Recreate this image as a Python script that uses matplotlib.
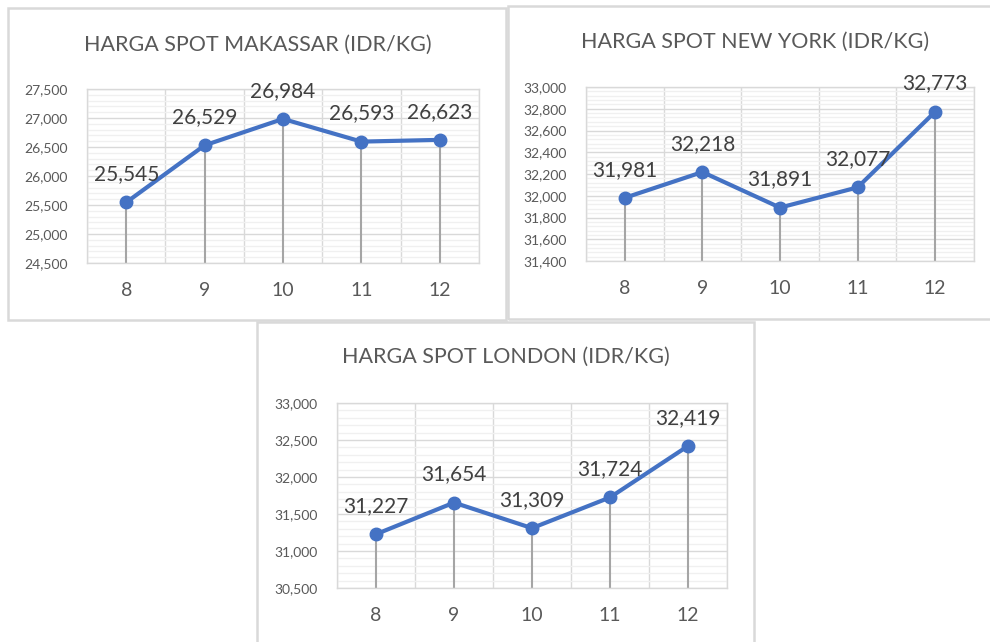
import numpy as np
import matplotlib as mpl
from matplotlib import pyplot as plt
from matplotlib.patches import Rectangle
from matplotlib.ticker import MultipleLocator, FuncFormatter

mpl.rcParams['font.family'] = ['Lato', 'DejaVu Sans']

# data
months = ['8', '9', '10', '11', '12']
makassar = [25545, 26529, 26984, 26593, 26623]
newyork = [31981, 32218, 31891, 32077, 32773]
london = [31227, 31654, 31309, 31724, 32419]

titles = ['HARGA SPOT MAKASSAR (IDR/KG)',
          'HARGA SPOT NEW YORK (IDR/KG)',
          'HARGA SPOT LONDON (IDR/KG)']

W, H = 990, 642
pColors = {'line': '#4472C4', 'drop': '#A5A5A5', 'major': '#D9D9D9',
           'minor': '#F0F0F0', 'text': '#595959', 'label': '#404040',
           'border': '#D9D9D9'}

f = plt.figure(figsize = (W / 100.0, H / 100.0), dpi = 100)
f.patch.set_facecolor('white')

def px_axes(left, top, right, bottom):
    return f.add_axes([left / W, 1.0 - bottom / H, (right - left) / W, (bottom - top) / H])

def px_border(left, top, right, bottom):
    f.patches.append(Rectangle((left / W, 1.0 - bottom / H),
                               (right - left) / W, (bottom - top) / H,
                               transform = f.transFigure, fill = False,
                               edgecolor = pColors['border'], lw = 1.8, zorder = 0))

def chart(ax, values, ymin, ymax, ystep, title, titlepos):
    x = np.arange(len(values))
    ax.set_xlim(-0.5, len(values) - 0.5)
    ax.set_ylim(ymin, ymax)
    ax.yaxis.set_major_locator(MultipleLocator(ystep))
    ax.yaxis.set_minor_locator(MultipleLocator(ystep / 5.0))
    ax.yaxis.set_major_formatter(FuncFormatter(lambda v, p: f'{int(round(v)):,}'))
    ax.set_xticks(x)
    ax.set_xticklabels(months)
    ax.set_xticks(np.arange(-0.5, len(values), 1.0), minor = True)

    ax.grid(which = 'minor', axis = 'y', color = pColors['minor'], lw = 1.0)
    ax.grid(which = 'major', axis = 'y', color = pColors['major'], lw = 1.0)
    ax.grid(which = 'minor', axis = 'x', color = pColors['major'], lw = 1.0)
    ax.set_axisbelow(True)
    for spine in ax.spines.values():
        spine.set_color(pColors['major'])
        spine.set_linewidth(1.0)

    ax.tick_params(which = 'both', length = 0)
    ax.tick_params(axis = 'y', labelsize = 10, labelcolor = pColors['text'], pad = 14)
    ax.tick_params(axis = 'x', labelsize = 14, labelcolor = pColors['text'], pad = 14)

    ax.vlines(x, ymin, values, color = pColors['drop'], lw = 1.5, zorder = 2)
    ax.plot(x, values, color = pColors['line'], lw = 3.0, marker = 'o',
            markersize = 9, zorder = 3, solid_capstyle = 'round')
    for xi, v in zip(x, values):
        ax.annotate(f'{v:,}', (xi, v), xytext = (0, 16), textcoords = 'offset points',
                    ha = 'center', va = 'baseline', fontsize = 15,
                    color = pColors['label'], zorder = 4, annotation_clip = False)

    f.text(titlepos[0] / W, 1.0 - titlepos[1] / H, title, ha = 'center', va = 'center',
           fontsize = 15.5, color = pColors['text'])

# chart borders
px_border(8, 8, 506, 320)
px_border(508, 6, 994, 319)
px_border(257, 322, 754, 650)

ax1 = px_axes(87, 89, 479, 263)
chart(ax1, makassar, 24500, 27500, 500, titles[0], (258, 45))

ax2 = px_axes(586, 87, 974, 261)
chart(ax2, newyork, 31400, 33000, 200, titles[1], (755, 42))

ax3 = px_axes(337, 403, 727, 588)
chart(ax3, london, 30500, 33000, 500, titles[2], (506, 357))

f.savefig('out.png', dpi = 100, facecolor = 'white')
plt.close()
